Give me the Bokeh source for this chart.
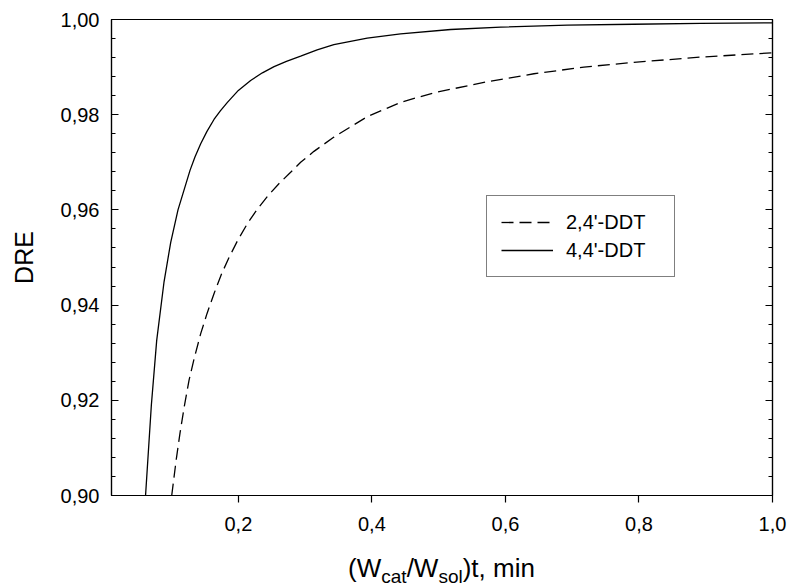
from bokeh.plotting import figure
from bokeh.models import (SingleIntervalTicker, FixedTicker, CustomJSTickFormatter,
                          LinearAxis, Legend, LegendItem, Range1d, Div)
from bokeh.layouts import column
from bokeh.embed import file_html
from bokeh.resources import INLINE

# ---- data ----
x_44 = [0.061, 0.0697, 0.0777, 0.0887, 0.0987, 0.1096, 0.1276, 0.135, 0.1436, 0.153, 0.1635,
        0.173, 0.1836, 0.200, 0.2184, 0.236, 0.2535, 0.272, 0.2933, 0.318, 0.343, 0.393,
        0.443, 0.518, 0.593, 0.6926, 0.792, 0.892, 1.0]
y_44 = [0.900, 0.9190, 0.9326, 0.9449, 0.9532, 0.9600, 0.9683, 0.9711, 0.9739, 0.9765, 0.9790,
        0.9808, 0.9826, 0.9851, 0.9872, 0.9888, 0.9901, 0.9912, 0.9923, 0.9936, 0.9947, 0.9961,
        0.9970, 0.9979, 0.9984, 0.9988, 0.9990, 0.9992, 0.9993]

x_24 = [0.1002, 0.107, 0.1126, 0.119, 0.1261, 0.134, 0.1436, 0.153, 0.1635, 0.175, 0.186,
        0.199, 0.2135, 0.228, 0.2434, 0.26, 0.2783, 0.2933, 0.3132, 0.3432, 0.3932, 0.443,
        0.4929, 0.5678, 0.6426, 0.7175, 0.7923, 0.892, 1.0]
y_24 = [0.900, 0.9076, 0.9131, 0.9187, 0.9242, 0.9289, 0.9340, 0.9382, 0.9424, 0.9466, 0.9500,
        0.9536, 0.9571, 0.9601, 0.9628, 0.9654, 0.9679, 0.9700, 0.9723, 0.9753, 0.9796, 0.9826,
        0.9846, 0.9868, 0.9886, 0.9900, 0.9910, 0.9921, 0.9930]

series_names = ["2,4'-DDT", "4,4'-DDT"]
x_ticks = [0.2, 0.4, 0.6, 0.8, 1.0]
x_range = (0.01, 1.0)
y_range = (0.90, 1.00)
y_label = "DRE"
x_label_html = ("(W<span style='font-size:19px;vertical-align:-6px'>cat</span>/W"
                "<span style='font-size:19px;vertical-align:-6px'>sol</span>)t, min")

FONT = "Liberation Sans"
W, H = 789, 554
ML, MR, MT, MB = 111, 17, 19, 59

p = figure(width=W, height=H, output_backend="svg", toolbar_location=None,
           x_range=Range1d(*x_range), y_range=Range1d(*y_range),
           min_border_left=ML, min_border_right=MR, min_border_top=MT, min_border_bottom=MB,
           x_axis_type=None, y_axis_type=None)
p.grid.visible = False
p.outline_line_color = "black"
p.outline_line_width = 1.2
p.background_fill_color = "white"
p.border_fill_color = "white"

yt = SingleIntervalTicker(interval=0.02, num_minor_ticks=5)
xt = FixedTicker(ticks=x_ticks, minor_ticks=[])

yfmt = CustomJSTickFormatter(code="return tick.toFixed(2).replace('.', ',');")
xfmt = CustomJSTickFormatter(code="return tick.toFixed(1).replace('.', ',');")
nofmt = CustomJSTickFormatter(code="return '';")

def style_axis(ax):
    ax.axis_line_color = "black"
    ax.axis_line_width = 1.2
    ax.major_tick_line_color = "black"
    ax.minor_tick_line_color = "black"
    ax.major_tick_line_width = 1.2
    ax.minor_tick_line_width = 1
    ax.major_label_text_font = FONT
    ax.major_label_text_font_size = "20px"
    ax.major_label_text_color = "black"
    ax.axis_label_text_font = FONT
    ax.axis_label_text_font_style = "normal"
    ax.axis_label_text_color = "black"

left = LinearAxis(ticker=yt, formatter=yfmt, axis_label=y_label)
style_axis(left)
left.major_tick_in = 7
left.major_tick_out = 0
left.minor_tick_in = 4
left.minor_tick_out = 0
left.major_label_standoff = 12
left.axis_label_text_font_size = "25px"
left.axis_label_standoff = 20
p.add_layout(left, "left")

right = LinearAxis(ticker=yt, formatter=nofmt)
style_axis(right)
right.major_tick_in = 7
right.major_tick_out = 0
right.minor_tick_in = 4
right.minor_tick_out = 0
right.major_label_standoff = 0
p.add_layout(right, "right")

bottom = LinearAxis(ticker=xt, formatter=xfmt)
style_axis(bottom)
bottom.major_tick_in = 0
bottom.major_tick_out = 7
bottom.major_label_standoff = 14
p.add_layout(bottom, "below")

r24 = p.line(x_24, y_24, line_color="black", line_width=1.3, line_dash="12 6")
r44 = p.line(x_44, y_44, line_color="black", line_width=1.3)

legend = Legend(items=[LegendItem(label=series_names[0], renderers=[r24]),
                       LegendItem(label=series_names[1], renderers=[r44])],
                location=(375, 218), padding=14, spacing=4,
                glyph_width=52, glyph_height=24, label_height=24, label_width=94,
                label_standoff=13, border_line_color="black", border_line_width=1,
                background_fill_color="white", background_fill_alpha=1,
                label_text_font=FONT, label_text_font_size="20px", label_text_color="black",
                margin=0)
p.add_layout(legend, "center")

frame_w = W - ML - MR
xlabel = Div(text=x_label_html, width=frame_w, height=587 - H,
             margin=(0, 0, 0, ML),
             styles={"font-family": FONT, "font-size": "26px", "color": "black",
                     "text-align": "center", "line-height": "1.1", "white-space": "nowrap"})

layout = column(p, xlabel, spacing=0)
open("out.html", "w").write(file_html(layout, INLINE))
